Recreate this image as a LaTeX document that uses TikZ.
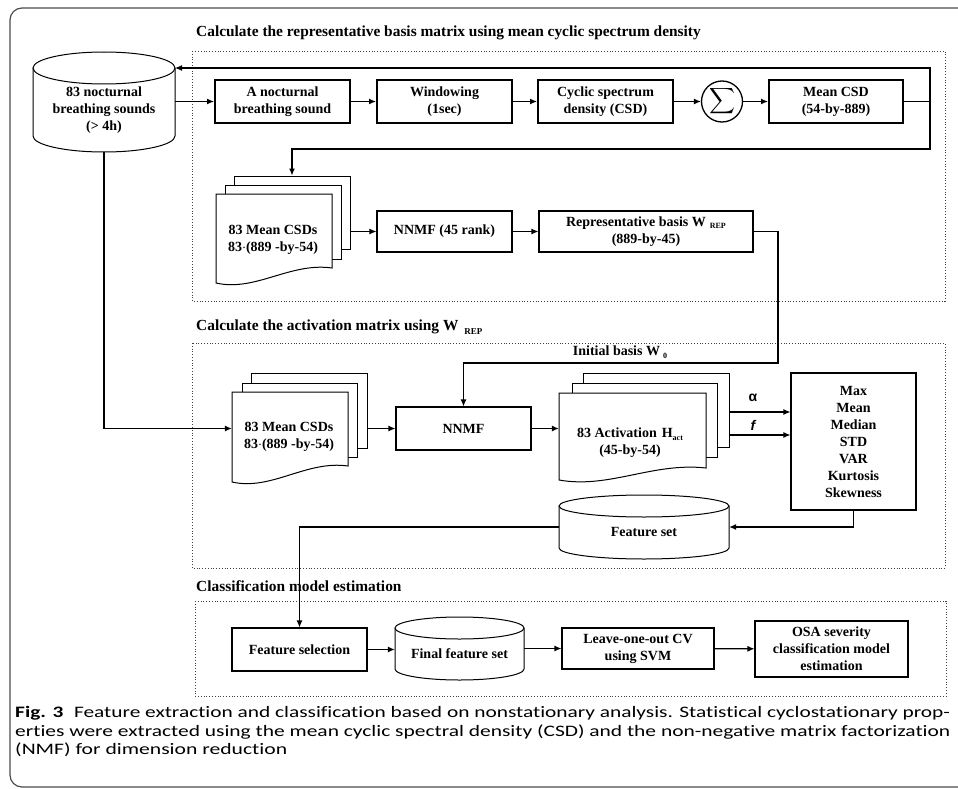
\documentclass[tikz,border=0pt]{standalone}
\usepackage{fontspec}
\usepackage{graphicx}
\setmainfont{Liberation Serif}
\newfontfamily\capfont[Ligatures=NoCommon]{Carlito}
\newfontfamily\arialf{Liberation Sans}
\usetikzlibrary{arrows.meta}
\newcommand\subs[1]{\raisebox{-2.5pt}{\fontsize{8}{8}\selectfont #1}}
\newcommand\dbshape[5]{% cx, rx, ytop, ry, ybot
  \draw[pg] (#1-#2,#3) -- (#1-#2,#5) arc[start angle=180,end angle=360,x radius=#2pt,y radius=#4pt] -- (#1+#2,#3);
  \draw[pg] (#1,#3) ellipse[x radius=#2pt, y radius=#4pt];
}
\newcommand\pagefront[5]{% x1,x2,top,yl,yr
  \draw[pg] (#1,#3) -- (#2,#3) -- (#2,#5) .. controls ({#2-0.36*(#2-#1)},{#5-6}) and ({#1+0.34*(#2-#1)},{#4+9}) .. (#1,#4) -- cycle;
}
\begin{document}
\begin{tikzpicture}[x=1pt,y=-1pt,
  every node/.style={font=\bfseries\fontsize{14}{17}\selectfont, align=center, inner sep=0pt},
  box/.style={draw, line width=1.1pt, fill=white, minimum height=43pt},
  tbox/.style={box, line width=2pt},
  conn/.style={line width=1.1pt},
  arr/.style={conn, -{Latex[length=7pt,width=6pt]}},
  dotbox/.style={draw=black!75, dotted, line width=0.8pt},
  pg/.style={draw, line width=1pt, fill=white},
  title/.style={anchor=west, font=\bfseries\fontsize{15.4}{18}\selectfont},
  captext/.style={anchor=west, font=\capfont\fontsize{16}{19}\selectfont}]
\useasboundingbox (0,0) rectangle (958,789);
\begin{scope}
\clip (0,0) rectangle (958,789);
\draw[black!70, line width=1.2pt, rounded corners=12pt] (10,8) rectangle (990,787);
\end{scope}

% titles
\node[title] (t1) at (196,33) {Calculate the representative basis matrix using mean cyclic spectrum density};
\node[title] (t2) at (196,327) {Calculate the activation matrix using W\hspace{6pt}\raisebox{-4pt}{\fontsize{9}{9}\selectfont REP}};
\node[title] (t3) at (196,586) {Classification model estimation};

% dotted boxes
\draw[dotbox] (192,51) rectangle (945,301);
\draw[dotbox] (192,343) rectangle (945,568);
\draw[dotbox] (195,601) rectangle (946,696);

% ---- top section
\dbshape{104}{71}{68}{16}{136}
\node[minimum width=142pt, minimum height=84pt] (db1) at (104,110) {83 nocturnal\\breathing sounds\\(> 4h)};

\node[tbox, minimum width=135pt] (boxA) at (282.5,101.5) {A nocturnal\\breathing sound};
\node[tbox, minimum width=135pt] (win) at (444.5,101.5) {Windowing\\(1sec)};
\node[tbox, minimum width=135pt] (csd) at (605.5,101.5) {Cyclic spectrum\\density (CSD)};
\node[draw, circle, line width=1.3pt, minimum size=41pt, fill=white] (sig) at (722,101.5) {\scalebox{1.8}{$\displaystyle\sum$}};
\node[tbox, minimum width=134pt] (mcsd) at (836,101.5) {Mean CSD\\(54-by-889)};

\draw[arr] (db1.east |- boxA) -- (boxA);
\draw[arr] (boxA) -- (win);
\draw[arr] (win) -- (csd);
\draw[arr] (csd) -- (sig);
\draw[arr] (sig) -- (mcsd);

\coordinate (fbR) at (930,101.5);
\coordinate (fbTop) at (930,68);
\coordinate (fbBot) at (930,149);
\coordinate (db1tr) at (175,68);

% stack 1
\node[pg, minimum width=116pt, minimum height=73pt] (s1c) at (292,212.5) {};
\node[pg, minimum width=116pt, minimum height=74pt] (s1b) at (283,222) {};
\pagefront{216}{332}{194}{283}{268}
\node (s1) at (273,240) {83 Mean CSDs\\83$\cdot$(889 -by-54)};

\draw[conn] (mcsd) -- (fbR);
\draw[arr] (fbR) -- (fbTop) -- (db1tr);
\draw[arr] (fbR) -- (fbBot) -| (s1c.north);

\node[box, minimum width=135pt, minimum height=41pt] (nnmf1) at (444.5,231.5) {NNMF (45 rank)};
\node[box, minimum width=214pt, minimum height=41pt] (rep) at (646,231.5) {Representative basis W\hspace{4pt}\subs{REP}\\(889-by-45)};
\draw[arr] (s1c.east |- nnmf1) -- (nnmf1);
\draw[arr] (nnmf1) -- (rep);

% ---- middle section
\coordinate (ib1) at (778,363);
\node (ibl) at (620,352) {Initial basis W\hspace{3pt}\subs{0}};
\node[box, minimum width=135pt, minimum height=43pt] (nnmf2) at (463.5,428.5) {NNMF};
\draw[arr] (rep.east) -| (ib1) -| (nnmf2.north);

% stack 2
\node[pg, minimum width=116pt, minimum height=75pt] (s2c) at (309,410.5) {};
\node[pg, minimum width=115pt, minimum height=74pt] (s2b) at (299.5,420) {};
\pagefront{232}{348}{392}{482}{466}
\node[minimum width=116pt, minimum height=90pt] (s2f) at (290,437) {};
\node (s2) at (289,437) {83 Mean CSDs\\83$\cdot$(889 -by-54)};
\draw[arr] (db1.south) |- (s2f.west |- nnmf2);
\draw[arr] (s2c.east |- nnmf2) -- (nnmf2);

% stack 3
\node[pg, minimum width=146pt, minimum height=74pt] (s3c) at (656,410) {};
\node[pg, minimum width=145pt, minimum height=74pt] (s3b) at (644.5,420) {};
\pagefront{559}{706}{393}{480}{468}
\node[minimum width=147pt, minimum height=87pt] (s3f) at (632.5,436.5) {};
\node (s3) at (630,443) {83 Activation\hspace{5pt}H\subs{act}\\(45-by-54)};
\draw[arr] (nnmf2) -- (s3f.west |- nnmf2);

\node[box, minimum width=125pt, minimum height=137pt] (stats) at (853.5,441.5) {Max\\Mean\\Median\\STD\\VAR\\Kurtosis\\Skewness};
\coordinate (ya) at (0,412);
\coordinate (yf) at (0,435);
\draw[arr] (s3c.east |- ya) -- (stats.west |- ya);
\draw[arr] (s3c.east |- yf) -- (stats.west |- yf);
\node (alab) at (753,398) {\arialf α};
\node (flab) at (753,425) {\arialf\itshape f};

\dbshape{644}{85}{506}{11}{548}
\node[minimum width=170pt, minimum height=42pt] (fset) at (644,527) {};
\node (fsett) at (644,532) {Feature set};
\draw[arr] (stats.south) |- (fset.east);

% ---- bottom section
\node[box, minimum width=135pt, minimum height=43pt] (fsel) at (299.5,649.5) {Feature selection};
\draw[arr] (fset.west) -| (fsel.north);
\dbshape{459.5}{64.5}{628}{11}{669}
\node[minimum width=129pt, minimum height=41pt] (ffs) at (459.5,648.5) {};
\node (ffst) at (459.5,654) {Final feature set};
\node[box, minimum width=152pt, minimum height=41pt] (loo) at (638,648.5) {Leave-one-out CV\\using SVM};
\node[box, minimum width=153pt, minimum height=56pt] (osa) at (831.5,649) {OSA severity\\classification model\\estimation};
\draw[arr] (fsel) -- (ffs.west |- fsel);
\draw[arr] (ffs.east |- loo) -- (loo);
\draw[arr] (loo) -- (osa);

% ---- caption
\node[captext] (c1) at (15,713) {\resizebox{935pt}{\height}{\textbf{Fig. 3}\hspace{0.5em}Feature extraction and classification based on nonstationary analysis. Statistical cyclostationary prop-}};
\node[captext] (c2) at (15,732) {\resizebox{935pt}{\height}{erties were extracted using the mean cyclic spectral density (CSD) and the non-negative matrix factorization}};
\node[captext] (c3) at (15,750) {\resizebox{272pt}{\height}{(NMF) for dimension reduction}};
\end{tikzpicture}
\end{document}
